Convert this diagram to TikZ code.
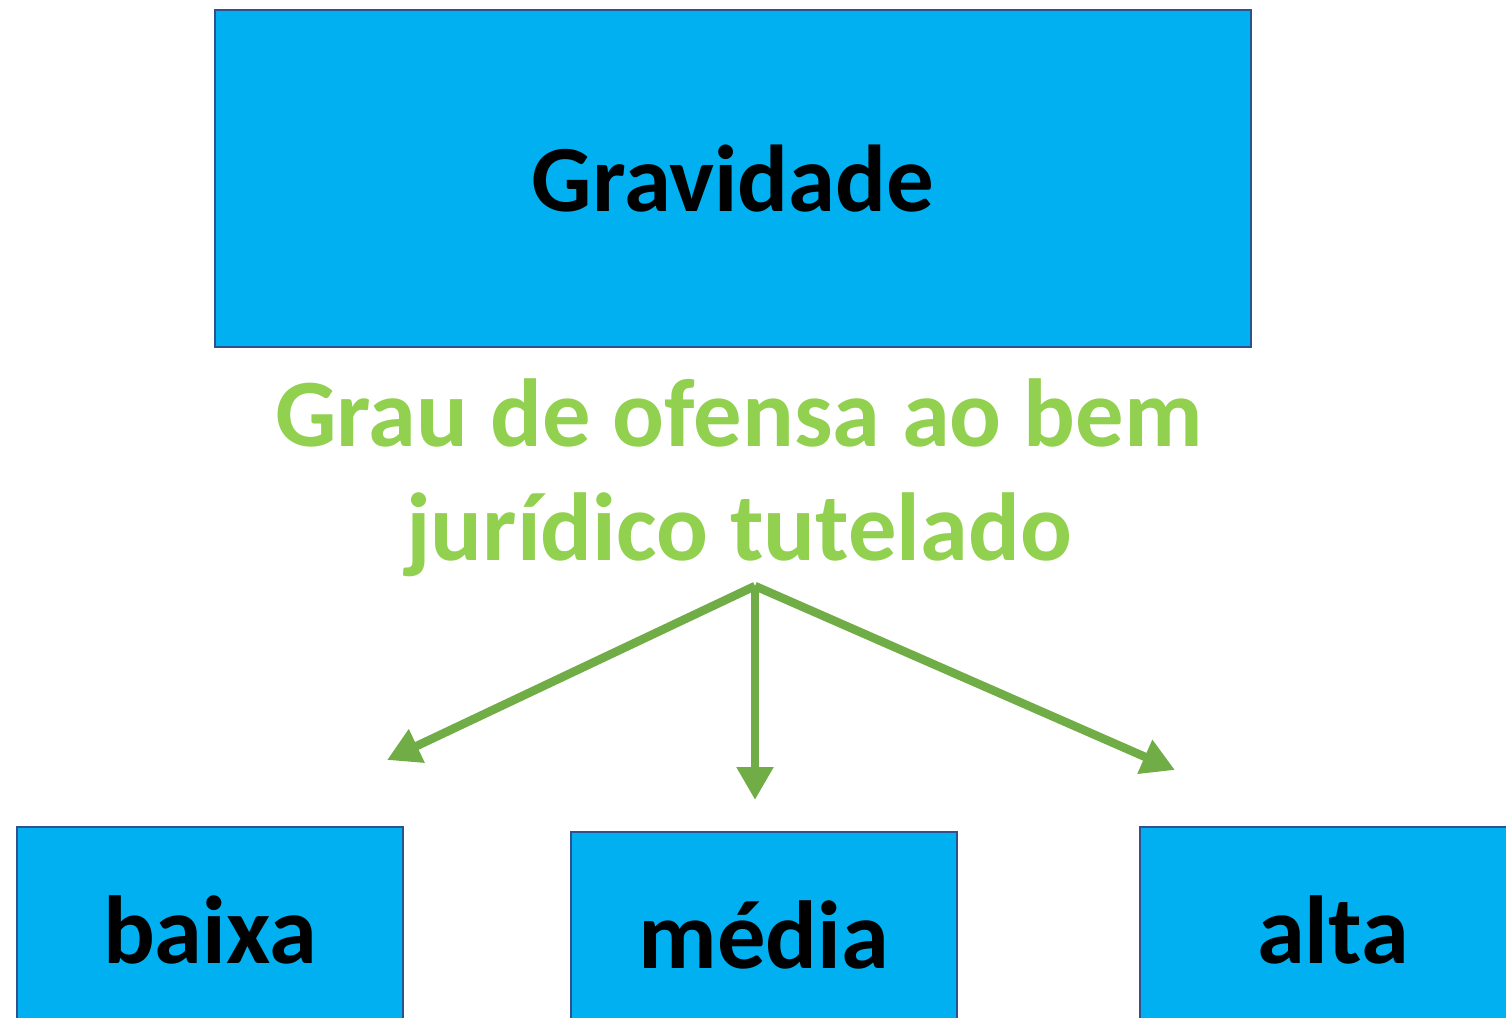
\documentclass[tikz,border=0pt]{standalone}
\usepackage{fontspec}
\setmainfont{Carlito}
\usepackage{xcolor}
\usepackage{tikz}
\usetikzlibrary{positioning, arrows.meta}

\definecolor{caixaazul}{HTML}{00B0F0}
\definecolor{bordaazul}{HTML}{2F528F}
\definecolor{verdeclaro}{HTML}{92D050}
\definecolor{verdeseta}{HTML}{70AD47}

\tikzset{
  caixa/.style={draw=bordaazul, line width=0.04cm, fill=caixaazul, inner sep=0pt,
    font=\fontsize{55}{66}\selectfont\bfseries},
  seta/.style={draw=verdeseta, line width=0.17cm, -{Triangle[length=0.66cm,width=0.7cm]}}
}

\begin{document}
\begin{tikzpicture}
  \useasboundingbox (0,0) rectangle (30.12,-20.34);
  \clip (0,0) rectangle (30.12,-20.34);

  \node[caixa, minimum width=20.72cm, minimum height=6.74cm, font=\fontsize{54}{65}\selectfont\bfseries]
    (gravidade) at (14.66,-3.57) {Gravidade};

  \node[text=verdeclaro, align=center, font=\fontsize{55}{65}\selectfont\bfseries] (criterio) at (14.78,-9.55)
    {Grau de ofensa ao bem\\jurídico tutelado};

  \coordinate (origem) at (15.1,-11.72);

  \foreach \n/\x/\y/\t in {baixa/4.2/-18.6/baixa, media/15.28/-18.7/média, alta/26.66/-18.6/alta} {
    \node[caixa, minimum width=7.72cm, minimum height=4.12cm] (\n) at (\x,\y) {\t};
  }

  \foreach \n/\x/\y in {fimbaixa/7.74/-15.2, fimmedia/15.1/-16.0, fimalta/23.5/-15.4} {
    \coordinate (\n) at (\x,\y);
    \draw[seta] (origem) -- (\n);
  }
\end{tikzpicture}
\end{document}
